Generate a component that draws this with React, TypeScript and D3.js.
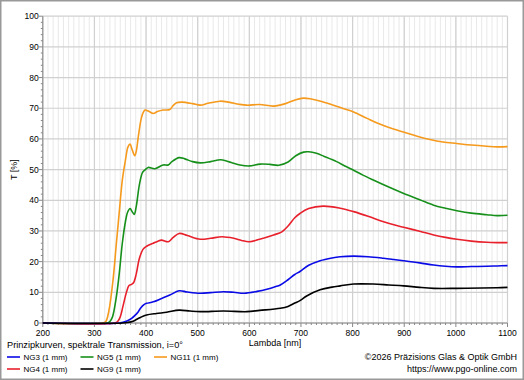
import React from "react";
import * as d3 from "d3";

const W = 524;
const H = 380;

const xTicks = [200, 300, 400, 500, 600, 700, 800, 900, 1000, 1100];
const yTicks = [0, 10, 20, 30, 40, 50, 60, 70, 80, 90, 100];

const ng11Nm = [200, 315, 322, 328, 336, 342, 348, 354, 360, 365, 369, 373, 378, 381, 386, 392, 398, 405, 414, 422, 433, 446, 452, 459, 470, 490, 505, 520, 543, 560, 580, 595, 620, 647, 670, 690, 705, 720, 740, 763, 780, 802, 828, 850, 879, 900, 925, 950, 975, 1002, 1030, 1060, 1080, 1100];
const ng11T = [0, 0, 0.5, 4, 14, 25, 36, 46.6, 53, 57.4, 58.3, 56.5, 54.5, 56, 62, 67.5, 69.4, 69, 68.3, 68.9, 69.4, 69.6, 70.8, 71.8, 72, 71.5, 71, 71.6, 72.3, 72, 71.3, 71, 71.2, 70.7, 71.5, 72.8, 73.3, 73, 72.2, 71, 70, 68.8, 66.7, 65, 63.2, 62.2, 60.9, 59.8, 59, 58.5, 58, 57.6, 57.4, 57.5];

const ng5Nm = [200, 325, 330, 335, 342, 348, 354, 360, 364, 369, 373, 377, 381, 387, 393, 398, 404, 417, 433, 443, 450, 464, 475, 490, 505, 525, 545, 565, 582, 600, 621, 640, 657, 675, 690, 705, 715, 730, 745, 769, 785, 802, 820, 840, 870, 899, 930, 957, 980, 1002, 1030, 1060, 1080, 1100];
const ng5T = [0, 0, 0.5, 2, 8, 16, 26, 33, 36, 37.3, 36.3, 35.4, 38, 45, 49, 49.9, 50.7, 50.3, 51.5, 51.5, 52.6, 53.9, 53.5, 52.6, 52.2, 52.6, 53.2, 52.3, 51.5, 51.2, 51.8, 51.7, 51.4, 52.5, 54.5, 55.7, 55.8, 55.3, 54.3, 52.6, 51.2, 49.8, 48.2, 46.6, 44.3, 42.2, 40.2, 38.4, 37.4, 36.6, 35.8, 35.3, 35, 35.1];

const ng4Nm = [200, 340, 345, 350, 356, 362, 367, 372, 376, 381, 387, 394, 401, 414, 422, 430, 443, 452, 464, 480, 505, 525, 547, 570, 585, 600, 620, 647, 663, 675, 688, 698, 715, 743, 776, 802, 830, 860, 880, 899, 930, 957, 980, 1002, 1030, 1060, 1080, 1100];
const ng4T = [0, 0, 0.5, 2, 6, 10, 12.2, 12.6, 13.2, 16, 21, 24, 25, 26, 26.6, 27, 26.5, 27.8, 29.2, 28.5, 27.3, 27.6, 28.1, 27.6, 26.9, 26.5, 27.3, 28.7, 29.7, 31.6, 34.3, 35.7, 37.3, 38.1, 37.4, 36.3, 34.8, 33, 32, 31.2, 29.9, 28.7, 27.9, 27.3, 26.7, 26.3, 26.2, 26.2];

const ng3Nm = [200, 350, 357, 365, 372, 378, 385, 390, 396, 401, 414, 430, 446, 464, 480, 505, 525, 550, 570, 590, 615, 634, 650, 660, 675, 688, 698, 715, 737, 760, 776, 802, 830, 860, 880, 899, 930, 957, 980, 1002, 1030, 1060, 1080, 1100];
const ng3T = [0, 0, 0.3, 0.8, 1.5, 2.4, 3.7, 5, 6, 6.4, 6.9, 8, 9.1, 10.5, 10.1, 9.7, 9.9, 10.2, 10, 9.7, 10.3, 11, 11.8, 12.4, 14.1, 15.8, 16.8, 18.8, 20.3, 21.2, 21.6, 21.8, 21.6, 21.1, 20.7, 20.3, 19.6, 18.9, 18.5, 18.3, 18.4, 18.5, 18.6, 18.7];

const ng9Nm = [200, 355, 365, 375, 382, 390, 401, 420, 440, 464, 485, 505, 550, 595, 620, 660, 675, 688, 698, 711, 737, 760, 776, 802, 840, 870, 899, 930, 957, 1002, 1050, 1080, 1100];
const ng9T = [0, 0, 0.2, 0.6, 1.2, 1.9, 2.6, 3.1, 3.5, 4.2, 3.9, 3.7, 3.9, 3.7, 4.1, 4.8, 5.4, 6.5, 7.3, 8.8, 10.8, 11.7, 12.1, 12.7, 12.7, 12.4, 12.1, 11.6, 11.3, 11.3, 11.4, 11.5, 11.6];

const seriesNames = ["NG3 (1 mm)", "NG5 (1 mm)", "NG11 (1 mm)", "NG4 (1 mm)", "NG9 (1 mm)"];
const seriesColors = ["#0a0ae6", "#16901a", "#f59a1c", "#e8202c", "#000000"];
const seriesNm = [ng3Nm, ng5Nm, ng11Nm, ng4Nm, ng9Nm];
const seriesT = [ng3T, ng5T, ng11T, ng4T, ng9T];

const FONT = "'Liberation Sans', Arial, sans-serif";

export default function App() {
  const x = d3.scaleLinear().domain([200, 1100]).range([42.8, 507.5]);
  const y = d3.scaleLinear().domain([0, 100]).range([323, 16.2]);
  const line = d3
    .line<[number, number]>()
    .x((d) => x(d[0]))
    .y((d) => y(Math.max(0, d[1])))
    .curve(d3.curveCatmullRom.alpha(0.5));

  const minorX = d3.range(200, 1101, 10);
  const minorY = d3.range(0, 101, 2);

  // draw order: NG11, NG5, NG4, NG3, NG9
  const order = [2, 1, 3, 0, 4];

  const legendPos = [
    { lx: 7, ly: 357 },
    { lx: 80.5, ly: 357 },
    { lx: 154, ly: 357 },
    { lx: 7, ly: 369 },
    { lx: 80.5, ly: 369 },
  ];

  return (
    <svg
      width={W}
      height={H}
      style={{ position: "absolute", left: 0, top: 0, background: "#fff" }}
      fontFamily={FONT}
    >
      <rect x={0.75} y={0.75} width={W - 1.5} height={H - 1.5} fill="#fff" stroke="#999" strokeWidth={1.5} />
      {/* minor vertical grid */}
      {minorX.map((v) => (
        <line key={"mx" + v} x1={x(v)} x2={x(v)} y1={y(100)} y2={y(0)} stroke="#e9e9e9" strokeWidth={1} />
      ))}
      {/* major grid */}
      {xTicks.map((v) => (
        <line key={"gx" + v} x1={x(v)} x2={x(v)} y1={y(100)} y2={y(0)} stroke="#d0d0d0" strokeWidth={1.2} />
      ))}
      {yTicks.map((v) => (
        <line key={"gy" + v} x1={x(200)} x2={x(1100)} y1={y(v)} y2={y(v)} stroke="#d0d0d0" strokeWidth={1.2} />
      ))}
      {/* axes */}
      <line x1={x(200)} x2={x(200)} y1={y(100)} y2={y(0)} stroke="#888" strokeWidth={1} />
      <line x1={x(200)} x2={x(1100)} y1={y(0)} y2={y(0)} stroke="#888" strokeWidth={1} />
      {minorY.map((v) => (
        <line key={"ty" + v} x1={x(200) - (v % 10 === 0 ? 4 : 2)} x2={x(200)} y1={y(v)} y2={y(v)} stroke="#888" strokeWidth={1} />
      ))}
      {minorX.map((v) => (
        <line key={"tx" + v} x1={x(v)} x2={x(v)} y1={y(0)} y2={y(0) + (v % 100 === 0 ? 4 : 2)} stroke="#888" strokeWidth={1} />
      ))}
      {yTicks.map((v) => (
        <text key={"ly" + v} x={x(200) - 4} y={y(v) + 3} fontSize={8.5} textAnchor="end" fill="#000">
          {v}
        </text>
      ))}
      {xTicks.map((v) => (
        <text key={"lx" + v} x={x(v)} y={336} fontSize={8.5} textAnchor="middle" fill="#000">
          {v}
        </text>
      ))}
      <text x={275} y={346} fontSize={9} textAnchor="middle" fill="#000">
        Lambda [nm]
      </text>
      <text transform={`translate(17,${y(50)}) rotate(-90)`} fontSize={9} textAnchor="middle" fill="#000">
        T [%]
      </text>
      {/* curves */}
      {order.map((i) => {
        const pts: [number, number][] = seriesNm[i].map((n, k) => [n, seriesT[i][k]]);
        return (
          <path key={"s" + i} d={line(pts) || ""} fill="none" stroke={seriesColors[i]} strokeWidth={1.6} strokeLinejoin="round" />
        );
      })}
      {/* title & legend */}
      <text x={7} y={348} fontSize={9.2} fill="#000">
        Prinzipkurven, spektrale Transmission, i=0°
      </text>
      {seriesNames.map((name, i) => (
        <g key={"lg" + i}>
          <line x1={legendPos[i].lx} x2={legendPos[i].lx + 13} y1={legendPos[i].ly} y2={legendPos[i].ly} stroke={seriesColors[i]} strokeWidth={1.6} />
          <text x={legendPos[i].lx + 16.5} y={legendPos[i].ly + 2.8} fontSize={8} fill="#000">
            {name}
          </text>
        </g>
      ))}
      <text x={517} y={360} fontSize={9} textAnchor="end" fill="#000">
        ©2026 Präzisions Glas &amp; Optik GmbH
      </text>
      <text x={517} y={372} fontSize={9} textAnchor="end" fill="#000">
        https://www.pgo-online.com
      </text>
    </svg>
  );
}
